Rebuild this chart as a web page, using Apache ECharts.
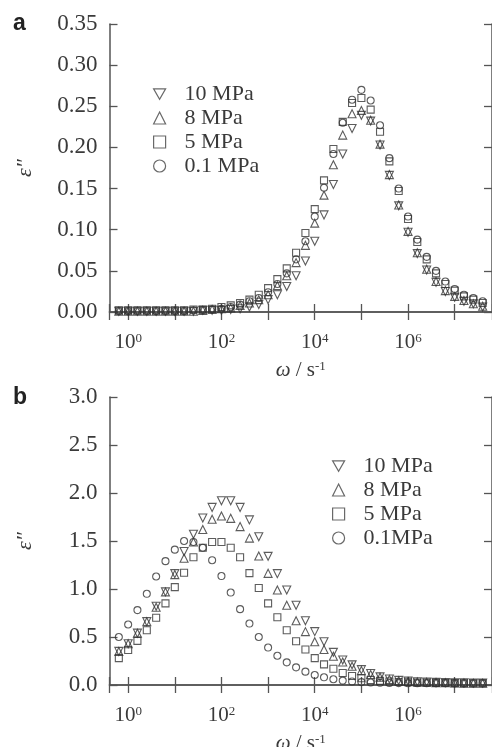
<!DOCTYPE html>
<html><head><meta charset="utf-8">
<script src="https://cdn.jsdelivr.net/npm/echarts@6/dist/echarts.min.js"></script>
<style>html,body{margin:0;padding:0;background:#fff}#c{width:492px;height:747px}</style>
</head><body><div id="c"></div>
<script>
// angular frequency omega / s^-1 (same grid for both panels)
const omega = [0.631,1,1.58,2.51,3.98,6.31,10,15.8,25.1,39.8,63.1,100,158,251,398,631,
  1e3,1.58e3,2.51e3,3.98e3,6.31e3,1e4,1.58e4,2.51e4,3.98e4,6.31e4,1e5,1.58e5,2.51e5,3.98e5,6.31e5,
  1e6,1.58e6,2.51e6,3.98e6,6.31e6,1e7,1.58e7,2.51e7,3.98e7];

// panel a : epsilon''
const a_10 = [0.001,0.001,0.001,0.001,0.001,0.001,0.001,0.001,0.001,0.002,0.002,0.002,0.003,0.004,0.006,0.009,
  0.015,0.021,0.031,0.044,0.062,0.086,0.118,0.155,0.192,0.223,0.239,0.232,0.203,0.166,0.129,
  0.097,0.071,0.051,0.036,0.025,0.018,0.013,0.010,0.006];
const a_8 = [0.001,0.001,0.001,0.001,0.001,0.001,0.001,0.001,0.001,0.002,0.003,0.004,0.005,0.008,0.011,0.015,
  0.021,0.032,0.044,0.060,0.081,0.108,0.142,0.179,0.215,0.241,0.245,0.233,0.204,0.167,0.130,
  0.098,0.072,0.052,0.037,0.026,0.019,0.014,0.010,0.007];
const a_5 = [0.002,0.002,0.002,0.002,0.002,0.002,0.002,0.002,0.003,0.003,0.004,0.006,0.008,0.011,0.015,0.021,
  0.029,0.040,0.053,0.072,0.096,0.125,0.160,0.198,0.231,0.254,0.260,0.246,0.219,0.183,0.147,
  0.113,0.085,0.064,0.047,0.034,0.026,0.019,0.015,0.011];
const a_01 = [0.001,0.001,0.001,0.001,0.001,0.001,0.001,0.001,0.002,0.002,0.003,0.004,0.006,0.009,0.013,0.017,
  0.024,0.034,0.047,0.064,0.086,0.116,0.151,0.192,0.230,0.258,0.270,0.257,0.227,0.187,0.150,
  0.116,0.088,0.067,0.050,0.037,0.028,0.021,0.017,0.013];

// panel b : epsilon''
const b_10 = [0.35,0.43,0.54,0.66,0.82,0.97,1.16,1.39,1.57,1.74,1.85,1.92,1.92,1.85,1.72,1.545,
  1.34,1.16,0.99,0.83,0.67,0.556,0.45,0.34,0.26,0.21,0.16,0.12,0.085,0.062,0.048,
  0.040,0.034,0.030,0.027,0.025,0.023,0.022,0.021,0.020];
const b_8 = [0.35,0.43,0.54,0.66,0.81,0.97,1.15,1.32,1.49,1.62,1.726,1.76,1.736,1.65,1.53,1.344,
  1.163,0.99,0.83,0.67,0.556,0.45,0.37,0.30,0.24,0.195,0.15,0.11,0.08,0.058,0.045,
  0.037,0.032,0.028,0.025,0.023,0.021,0.020,0.019,0.018];
const b_5 = [0.28,0.365,0.46,0.57,0.70,0.85,1.02,1.17,1.33,1.43,1.49,1.49,1.43,1.33,1.165,1.01,
  0.85,0.705,0.57,0.455,0.37,0.28,0.215,0.17,0.125,0.094,0.07,0.052,0.043,0.036,0.031,
  0.028,0.025,0.023,0.022,0.021,0.020,0.019,0.018,0.018];
const b_01 = [0.50,0.63,0.78,0.95,1.13,1.29,1.41,1.50,1.49,1.43,1.30,1.135,0.963,0.79,0.64,0.50,
  0.39,0.305,0.236,0.184,0.139,0.104,0.08,0.06,0.046,0.036,0.030,0.026,0.023,0.021,0.020,
  0.019,0.019,0.018,0.018,0.018,0.017,0.017,0.017,0.017];

const namesA = ['10 MPa','8 MPa','5 MPa','0.1 MPa'];
const namesB = ['10 MPa','8 MPa','5 MPa','0.1MPa'];
const yRangeA = [0, 0.35, 0.05];
const yRangeB = [0, 3.0, 0.5];
const xRange = [Math.pow(10,-0.4), Math.pow(10,7.8)];

const INK = '#3a3a3a';
const LINE = '#555';
const SERIF = '"Liberation Serif","Times New Roman",serif';
const DOWN_TRI = 'path://M0,0L10,0L5,8.66Z';
const symbols = [
  {symbol:'triangle', rot:180, icon: DOWN_TRI},
  {symbol:'triangle', rot:0, icon: 'triangle'},
  {symbol:'rect', rot:0, icon: 'rect'},
  {symbol:'circle', rot:0, icon: 'circle'}
];

function xLabelFmt(v){
  const l = Math.log10(v);
  const e = Math.round(l);
  if (Math.abs(l - e) > 1e-6 || e % 2 !== 0) return '';
  return '{b|10}{s|' + e + '}';
}
const xRich = {
  b: {fontFamily: SERIF, fontSize: 21, color: INK, lineHeight: 21, verticalAlign: 'bottom', padding: [7,0,0,0]},
  s: {fontFamily: SERIF, fontSize: 13, color: INK, lineHeight: 13, verticalAlign: 'top'}
};
const nameRich = {
  w: {fontFamily: SERIF, fontStyle: 'italic', fontSize: 21, color: INK, lineHeight: 21, verticalAlign: 'bottom', padding: [6,0,0,0]},
  n: {fontFamily: SERIF, fontSize: 21, color: INK, lineHeight: 21, verticalAlign: 'bottom', padding: [6,0,0,0]},
  s: {fontFamily: SERIF, fontSize: 13, color: INK, lineHeight: 13, verticalAlign: 'top'}
};

function xAxes(gi, nameGap){
  const common = {
    type: 'log', gridIndex: gi, min: xRange[0], max: xRange[1], logBase: 10,
    axisLine: {show: true, lineStyle: {color: LINE, width: 1.5}},
    axisTick: {show: true, inside: true, length: 8, lineStyle: {color: LINE, width: 1.3}},
    splitLine: {show: false}, minorTick: {show: false}
  };
  return [
    Object.assign({}, common, {position: 'bottom',
      axisLabel: {show: true, formatter: xLabelFmt, rich: xRich, margin: 20},
      name: '{w|ω}{n| / s}{s|-1}', nameLocation: 'middle', nameGap: nameGap,
      nameTextStyle: {rich: nameRich}}),
    Object.assign({}, common, {position: 'top', axisLabel: {show: false}})
  ];
}
function yAxes(gi, r, dec){
  const common = {
    type: 'value', gridIndex: gi, min: r[0], max: r[1], interval: r[2],
    axisLine: {show: true, lineStyle: {color: LINE, width: 1.5}},
    axisTick: {show: true, inside: true, length: 8, lineStyle: {color: LINE, width: 1.3}},
    splitLine: {show: false}
  };
  return [
    Object.assign({}, common, {position: 'left',
      axisLabel: {show: true, formatter: v => v.toFixed(dec), fontFamily: SERIF, fontSize: 23, color: INK, margin: 12},
      name: 'ε″', nameLocation: 'middle', nameRotate: 90, nameGap: 73,
      nameTextStyle: {fontFamily: SERIF, fontStyle: 'italic', fontSize: 22, color: INK}}),
    Object.assign({}, common, {position: 'right', axisLabel: {show: false}})
  ];
}

function mkSeries(names, datas, gi){
  return datas.map((d, i) => ({
    name: names[i], type: 'scatter',
    xAxisIndex: gi * 2, yAxisIndex: gi * 2,
    symbol: symbols[i].symbol, symbolRotate: symbols[i].rot,
    symbolSize: symbols[i].symbol === 'triangle' ? 8 : 7,
    itemStyle: {color: 'rgba(255,255,255,0)', borderColor: '#333', borderWidth: 1.1},
    data: omega.map((x, k) => [x, d[k]]),
    z: 3 + i
  }));
}

const legendCommon = {
  orient: 'vertical', itemWidth: 12, itemHeight: 12, itemGap: 0,
  textStyle: {fontFamily: SERIF, fontSize: 22, color: INK, lineHeight: 24, padding: [0,0,0,14]},
  itemStyle: {color: 'rgba(255,255,255,0)', borderColor: '#444', borderWidth: 1.2},
  selectedMode: false
};
function legendData(names){
  return names.map((n, i) => ({name: n, icon: symbols[i].icon}));
}

const chart = echarts.init(document.getElementById('c'), null, {renderer: 'canvas'});
chart.setOption({
  backgroundColor: '#fff',
  animation: false,
  grid: [
    {left: 109.5, right: 0, top: 24, height: 288, containLabel: false, outerBoundsMode: 'none'},
    {left: 109.5, right: 0, top: 397, height: 288, containLabel: false, outerBoundsMode: 'none'}
  ],
  xAxis: xAxes(0, 40).concat(xAxes(1, 46)),
  yAxis: yAxes(0, yRangeA, 2).concat(yAxes(1, yRangeB, 1)),
  legend: [
    Object.assign({}, legendCommon, {left: 148, top: 77, data: legendData(namesA)}),
    Object.assign({}, legendCommon, {left: 327, top: 449, data: legendData(namesB)})
  ],
  series: mkSeries(namesA, [a_10, a_8, a_5, a_01], 0).concat(mkSeries(namesB, [b_10, b_8, b_5, b_01], 1)),
  graphic: [
    {type: 'text', left: 13, top: 12, style: {text: 'a', font: 'bold 23px "Liberation Sans", Arial, sans-serif', fill: '#222'}},
    {type: 'text', left: 13, top: 386, style: {text: 'b', font: 'bold 23px "Liberation Sans", Arial, sans-serif', fill: '#222'}}
  ]
});
</script></body></html>
